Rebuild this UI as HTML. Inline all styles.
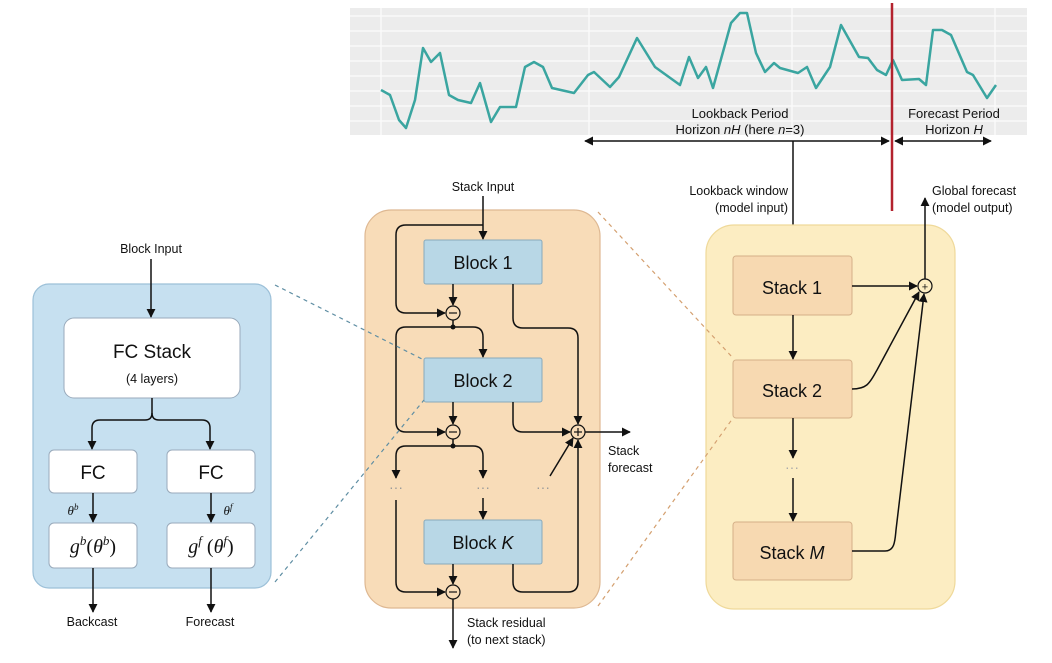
<!DOCTYPE html>
<html><head><meta charset="utf-8"><style>
html,body{margin:0;padding:0;background:#fff;}
svg{display:block;font-family:"Liberation Sans",Arial,sans-serif;}
</style></head><body>
<svg width="1052" height="663" viewBox="0 0 1052 663" xmlns="http://www.w3.org/2000/svg">
<defs>
<marker id="a" viewBox="0 0 10 10" refX="9" refY="5" markerWidth="9" markerHeight="9" markerUnits="userSpaceOnUse" orient="auto-start-reverse"><path d="M0,0 L10,5 L0,10 z" fill="#111"/></marker>
</defs>
<!-- chart -->
<rect x="350" y="8" width="677" height="127" fill="#ececec"/>
<g stroke="#fafafa" stroke-width="1.5">
<line x1="350" y1="16" x2="1027" y2="16"/><line x1="350" y1="31" x2="1027" y2="31"/><line x1="350" y1="46" x2="1027" y2="46"/><line x1="350" y1="61" x2="1027" y2="61"/><line x1="350" y1="76" x2="1027" y2="76"/><line x1="350" y1="91" x2="1027" y2="91"/><line x1="350" y1="106" x2="1027" y2="106"/><line x1="350" y1="121" x2="1027" y2="121"/>
<line x1="381" y1="8" x2="381" y2="135"/><line x1="589" y1="8" x2="589" y2="135"/><line x1="792" y1="8" x2="792" y2="135"/><line x1="995" y1="8" x2="995" y2="135"/>
</g>
<polyline fill="none" stroke="#3aa5a0" stroke-width="2.5" stroke-linejoin="round" points="381,90 390,95 399,120 406,128 415,100 423,48 431,62 440,53 449,95 458,100 471,103 480,83 491,122 500,107 516,107 525,67 534,62 543,67 552,88 574,93 588,75 594,72 610,87 619,77 637,38 655,67 680,85 689,57 698,78 706,67 713,88 731,23 740,13 747,13 756,53 765,72 774,63 780,68 798,73 807,67 816,88 830,67 841,25 859,57 868,58 877,70 886,75 893,60 902,80 919,79 926,85 933,30 942,30 951,35 967,72 973,75 987,98 996,85"/>
<line x1="892" y1="3" x2="892" y2="211" stroke="#b3222e" stroke-width="2.5"/>
<g font-size="13" fill="#111" text-anchor="middle">
<text x="740" y="118">Lookback Period</text>
<text x="740" y="134">Horizon <tspan font-style="italic">nH</tspan> (here <tspan font-style="italic">n</tspan>=3)</text>
<text x="954" y="118">Forecast Period</text>
<text x="954" y="134">Horizon <tspan font-style="italic">H</tspan></text>
</g>
<g stroke="#111" stroke-width="1.5" fill="none">
<line x1="585" y1="141" x2="889" y2="141" marker-start="url(#a)" marker-end="url(#a)"/>
<line x1="895" y1="141" x2="991" y2="141" marker-start="url(#a)" marker-end="url(#a)"/>
<line x1="793" y1="141" x2="793" y2="255" marker-end="url(#a)"/>
</g>
<g font-size="12.5" fill="#111">
<text x="788" y="195" text-anchor="end">Lookback window</text>
<text x="788" y="212" text-anchor="end">(model input)</text>
<text x="932" y="195">Global forecast</text>
<text x="932" y="212">(model output)</text>
<text x="483" y="191" text-anchor="middle">Stack Input</text>
<text x="151" y="253" text-anchor="middle">Block Input</text>
<text x="608" y="455">Stack</text>
<text x="608" y="472">forecast</text>
<text x="467" y="627">Stack residual</text>
<text x="467" y="644">(to next stack)</text>
<text x="92" y="626" text-anchor="middle">Backcast</text>
<text x="210" y="626" text-anchor="middle">Forecast</text>
</g>
<!-- right panel -->
<rect x="706" y="225" width="249" height="384" rx="28" fill="#fcedc2" stroke="#efd99a" stroke-width="1.2"/>
<g fill="#f7d9b1" stroke="#d5b088" stroke-width="1">
<rect x="733" y="256" width="119" height="59" rx="3"/>
<rect x="733" y="360" width="119" height="58" rx="3"/>
<rect x="733" y="522" width="119" height="58" rx="3"/>
</g>
<g font-size="18" fill="#111" text-anchor="middle">
<text x="792" y="294">Stack 1</text>
<text x="792" y="397">Stack 2</text>
<text x="792" y="559">Stack <tspan font-style="italic">M</tspan></text>
</g>
<text x="792" y="472" font-size="14" fill="#aaa" text-anchor="middle">···</text>
<g stroke="#111" stroke-width="1.5" fill="none">
<line x1="793" y1="315" x2="793" y2="359" marker-end="url(#a)"/>
<line x1="793" y1="418" x2="793" y2="458" marker-end="url(#a)"/>
<line x1="793" y1="478" x2="793" y2="521" marker-end="url(#a)"/>
<line x1="852" y1="286" x2="917" y2="286" marker-end="url(#a)"/>
<path d="M852,389 C868,389 870,382 877,370 L919,292" marker-end="url(#a)"/>
<path d="M852,551 L885,551 C895,551 895,540 896,530 L924,294" marker-end="url(#a)"/>
<line x1="925" y1="279" x2="925" y2="198" marker-end="url(#a)"/>
</g>
<circle cx="925" cy="286" r="7" fill="#fcedc2" stroke="#111" stroke-width="1.2"/>
<text x="925" y="290.5" font-size="11" text-anchor="middle" fill="#111">+</text>
<!-- middle panel -->
<rect x="365" y="210" width="235" height="398" rx="26" fill="#f8dcb8" stroke="#deb892" stroke-width="1.2"/>
<g fill="#b8d7e6" stroke="#89aabb" stroke-width="1">
<rect x="424" y="240" width="118" height="44" rx="2"/>
<rect x="424" y="358" width="118" height="44" rx="2"/>
<rect x="424" y="520" width="118" height="44" rx="2"/>
</g>
<g font-size="18" fill="#111" text-anchor="middle">
<text x="483" y="269">Block 1</text>
<text x="483" y="387">Block 2</text>
<text x="483" y="549">Block <tspan font-style="italic">K</tspan></text>
</g>
<g font-size="14" fill="#999" text-anchor="middle">
<text x="396" y="492">···</text><text x="483" y="492">···</text><text x="543" y="492">···</text>
</g>
<g stroke="#111" stroke-width="1.5" fill="none">
<line x1="483" y1="196" x2="483" y2="239" marker-end="url(#a)"/>
<path d="M483,225 L406,225 Q396,225 396,235 L396,303 Q396,313 406,313 L445,313" marker-end="url(#a)"/>
<line x1="453" y1="284" x2="453" y2="305" marker-end="url(#a)"/>
<line x1="453" y1="320" x2="453" y2="327"/>
<path d="M453,327 L473,327 Q483,327 483,337 L483,357" marker-end="url(#a)"/>
<path d="M453,327 L406,327 Q396,327 396,337 L396,422 Q396,432 406,432 L445,432" marker-end="url(#a)"/>
<path d="M513,284 L513,318 Q513,328 523,328 L568,328 Q578,328 578,338 L578,424" marker-end="url(#a)"/>
<line x1="453" y1="402" x2="453" y2="424" marker-end="url(#a)"/>
<path d="M513,402 L513,422 Q513,432 523,432 L570,432" marker-end="url(#a)"/>
<line x1="585" y1="432" x2="630" y2="432" marker-end="url(#a)"/>
<line x1="453" y1="439" x2="453" y2="446"/>
<path d="M453,446 L406,446 Q396,446 396,456 L396,478" marker-end="url(#a)"/>
<path d="M453,446 L473,446 Q483,446 483,456 L483,478" marker-end="url(#a)"/>
<line x1="550" y1="476" x2="573" y2="438" marker-end="url(#a)"/>
<line x1="483" y1="498" x2="483" y2="519" marker-end="url(#a)"/>
<path d="M396,500 L396,582 Q396,592 406,592 L445,592" marker-end="url(#a)"/>
<line x1="453" y1="564" x2="453" y2="584" marker-end="url(#a)"/>
<path d="M513,564 L513,582 Q513,592 523,592 L568,592 Q578,592 578,582 L578,440" marker-end="url(#a)"/>
<line x1="453" y1="599" x2="453" y2="648" marker-end="url(#a)"/>
</g>
<circle cx="453" cy="327" r="2.5" fill="#111"/>
<circle cx="453" cy="446" r="2.5" fill="#111"/>
<g fill="#f8dcb8" stroke="#111" stroke-width="1.2">
<circle cx="453" cy="313" r="7"/><circle cx="453" cy="432" r="7"/><circle cx="453" cy="592" r="7"/><circle cx="578" cy="432" r="7"/>
</g>
<g stroke="#111" stroke-width="1.2">
<line x1="449" y1="313" x2="457" y2="313"/><line x1="449" y1="432" x2="457" y2="432"/><line x1="449" y1="592" x2="457" y2="592"/>
<line x1="574" y1="432" x2="582" y2="432"/><line x1="578" y1="428" x2="578" y2="436"/>
</g>
<!-- left panel -->
<rect x="33" y="284" width="238" height="304" rx="16" fill="#c6e0f0" stroke="#9cc0d8" stroke-width="1.2"/>
<rect x="64" y="318" width="176" height="80" rx="10" fill="#fff" stroke="#9ab" stroke-width="1"/>
<text x="152" y="358" font-size="19" text-anchor="middle" fill="#111">FC Stack</text>
<text x="152" y="383" font-size="12.5" text-anchor="middle" fill="#111">(4 layers)</text>
<g fill="#fff" stroke="#9ab" stroke-width="1">
<rect x="49" y="450" width="88" height="43" rx="5"/>
<rect x="167" y="450" width="88" height="43" rx="5"/>
<rect x="49" y="523" width="88" height="45" rx="5"/>
<rect x="167" y="523" width="88" height="45" rx="5"/>
</g>
<g font-size="19" text-anchor="middle" fill="#111">
<text x="93" y="479">FC</text><text x="211" y="479">FC</text>
</g>
<g font-family="'Liberation Serif',serif" font-style="italic" fill="#111" text-anchor="middle">
<text x="93" y="553" font-size="20">g<tspan font-size="13" dy="-8">b</tspan><tspan dy="8" font-style="normal">(</tspan>θ<tspan font-size="13" dy="-8">b</tspan><tspan dy="8" font-style="normal">)</tspan></text>
<text x="211" y="553" font-size="20">g<tspan font-size="13" dy="-8">f</tspan><tspan dy="8" font-style="normal"> (</tspan>θ<tspan font-size="13" dy="-8">f</tspan><tspan dy="8" font-style="normal">)</tspan></text>
<text x="73" y="515" font-size="13">θ<tspan font-size="9" dy="-5">b</tspan></text>
<text x="228" y="515" font-size="13">θ<tspan font-size="9" dy="-5">f</tspan></text>
</g>
<g stroke="#111" stroke-width="1.5" fill="none">
<line x1="151" y1="259" x2="151" y2="317" marker-end="url(#a)"/>
<path d="M152,398 L152,413 Q152,420 145,420 L100,420 Q92,420 92,428 L92,449" marker-end="url(#a)"/>
<path d="M152,413 Q152,420 159,420 L202,420 Q210,420 210,428 L210,449" marker-end="url(#a)"/>
<line x1="93" y1="493" x2="93" y2="522" marker-end="url(#a)"/>
<line x1="211" y1="493" x2="211" y2="522" marker-end="url(#a)"/>
<line x1="93" y1="568" x2="93" y2="612" marker-end="url(#a)"/>
<line x1="211" y1="568" x2="211" y2="612" marker-end="url(#a)"/>
</g>
<!-- dashed connectors (on top) -->
<g stroke-dasharray="4,4" stroke-width="1.2" fill="none">
<line x1="275" y1="285" x2="424" y2="360" stroke="#5f8ea3"/>
<line x1="275" y1="582" x2="424" y2="400" stroke="#5f8ea3"/>
<line x1="598" y1="212" x2="733" y2="358" stroke="#d4a070"/>
<line x1="598" y1="606" x2="733" y2="418" stroke="#d4a070"/>
</g>
</svg>
</body></html>
